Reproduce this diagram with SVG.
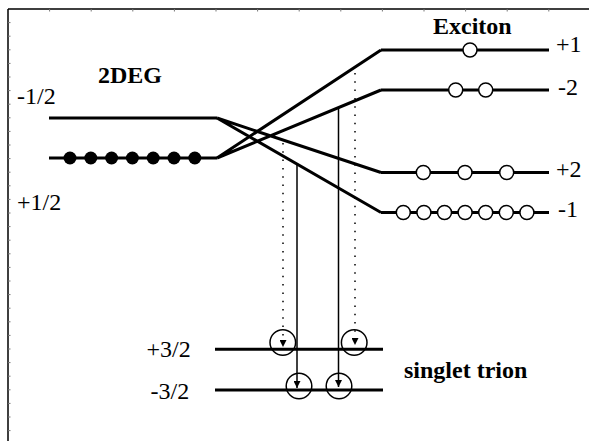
<svg xmlns="http://www.w3.org/2000/svg" width="589" height="441" viewBox="0 0 589 441">
<style>
.lvl{stroke:#000;stroke-width:3;fill:none;stroke-linecap:butt}
.tr{stroke:#000;stroke-width:3;fill:none}
.full{fill:#000;stroke:none}
.open{fill:#fff;stroke:#000;stroke-width:1.5}
.ring{fill:none;stroke:#000;stroke-width:1.5}
.sol{stroke:#000;stroke-width:1.5;fill:none}
.dot{stroke:#000;stroke-width:1.5;fill:none;stroke-dasharray:1.5 6.8}
.tick{stroke:#777;stroke-width:1}
text{font-family:'Liberation Serif','DejaVu Serif','Times New Roman',serif;font-size:24px;fill:#000}
.b{font-weight:bold}
</style>
<defs>
<marker id="ah" viewBox="0 0 10 10" refX="10" refY="5" markerWidth="11" markerHeight="7" markerUnits="userSpaceOnUse" orient="auto">
<path d="M0,0 L10,5 L0,10 z" fill="#000"/>
</marker>
</defs>
<g id="frame">
<path d="M8,9 L8,441 M8,9 L589,9" stroke="#000" stroke-width="1.5" fill="none"/>
<path class="tick" d="M8,22.6h2.5M8,36.2h2.5M8,49.8h2.5M8,63.4h2.5M8,77h2.5M8,90.6h2.5M8,104.2h2.5M8,117.8h2.5M8,131.4h2.5M8,145h2.5M8,158.6h2.5M8,172.2h2.5M8,185.8h2.5M8,199.4h2.5M8,213h2.5M8,226.6h2.5M8,240.2h2.5M8,253.8h2.5M8,267.4h2.5M8,281h2.5M8,294.6h2.5M8,308.2h2.5M8,321.8h2.5M8,335.4h2.5M8,349h2.5M8,362.6h2.5M8,376.2h2.5M8,389.8h2.5M8,403.4h2.5M8,417h2.5M8,430.6h2.5"/>
<path class="tick" d="M49.6,9v2.5M91.2,9v2.5M132.8,9v2.5M174.4,9v2.5M216,9v2.5M257.6,9v2.5M299.2,9v2.5M340.8,9v2.5M382.4,9v2.5M424,9v2.5M465.6,9v2.5M507.2,9v2.5M548.8,9v2.5"/>
</g>
<g id="deg">
<text class="b" x="98" y="83" font-family="Liberation Serif, serif">2DEG</text>
<text x="17" y="104" font-family="Liberation Serif, serif">-1/2</text>
<text x="17" y="210" font-family="Liberation Serif, serif">+1/2</text>
<line class="lvl" x1="49" y1="118" x2="217" y2="118"/>
<line class="lvl" x1="49" y1="158" x2="217" y2="158"/>
<circle class="full" cx="70" cy="158" r="6.5"/>
<circle class="full" cx="90.8" cy="158" r="6.5"/>
<circle class="full" cx="111.6" cy="158" r="6.5"/>
<circle class="full" cx="132.4" cy="158" r="6.5"/>
<circle class="full" cx="153.2" cy="158" r="6.5"/>
<circle class="full" cx="174" cy="158" r="6.5"/>
<circle class="full" cx="194.8" cy="158" r="6.5"/>
</g>
<g id="connectors">
<path class="tr" d="M217,118 L381,172.5 M217,118 L381,212.5 M217,158 L381,50 M217,158 L381,90"/>
<line class="dot" x1="283" y1="143" x2="283" y2="347" marker-end="url(#ah)"/>
<line class="dot" x1="355" y1="73" x2="355" y2="345" marker-end="url(#ah)"/>
<line class="sol" x1="297" y1="164" x2="297" y2="388" marker-end="url(#ah)"/>
<line class="sol" x1="338.5" y1="108" x2="338.5" y2="387" marker-end="url(#ah)"/>
</g>
<g id="exciton">
<text class="b" x="433" y="34" font-family="Liberation Serif, serif">Exciton</text>
<line class="lvl" x1="381" y1="50" x2="549" y2="50"/>
<line class="lvl" x1="381" y1="90" x2="549" y2="90"/>
<line class="lvl" x1="381" y1="172.5" x2="549" y2="172.5"/>
<line class="lvl" x1="381" y1="212.5" x2="549" y2="212.5"/>
<circle class="open" cx="470" cy="50" r="7"/>
<circle class="open" cx="455.7" cy="90" r="7"/>
<circle class="open" cx="485.7" cy="90" r="7"/>
<circle class="open" cx="423.3" cy="172.5" r="7"/>
<circle class="open" cx="465" cy="172.5" r="7"/>
<circle class="open" cx="506.7" cy="172.5" r="7"/>
<circle class="open" cx="403.3" cy="212.5" r="7"/>
<circle class="open" cx="423.9" cy="212.5" r="7"/>
<circle class="open" cx="444.5" cy="212.5" r="7"/>
<circle class="open" cx="465.1" cy="212.5" r="7"/>
<circle class="open" cx="485.7" cy="212.5" r="7"/>
<circle class="open" cx="506.3" cy="212.5" r="7"/>
<circle class="open" cx="526.9" cy="212.5" r="7"/>
<text x="556" y="52" font-family="Liberation Serif, serif">+1</text>
<text x="558" y="95" font-family="Liberation Serif, serif">-2</text>
<text x="556" y="177" font-family="Liberation Serif, serif">+2</text>
<text x="558" y="217" font-family="Liberation Serif, serif">-1</text>
</g>
<g id="trion">
<text x="146.5" y="357" font-family="Liberation Serif, serif">+3/2</text>
<text x="150.5" y="399" font-family="Liberation Serif, serif">-3/2</text>
<line class="lvl" x1="215" y1="349.3" x2="383" y2="349.3"/>
<line class="lvl" x1="215" y1="390" x2="383" y2="390"/>
<circle class="ring" cx="282.8" cy="342.5" r="12.8"/>
<circle class="ring" cx="354.2" cy="342.5" r="12.8"/>
<circle class="ring" cx="299" cy="386" r="12.8"/>
<circle class="ring" cx="339" cy="386" r="12.8"/>
<text class="b" x="404" y="378" font-family="Liberation Serif, serif">singlet trion</text>
</g>
</svg>
